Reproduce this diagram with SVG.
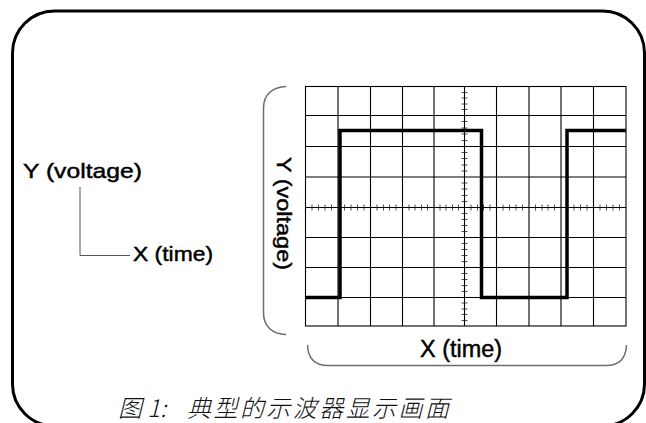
<svg xmlns="http://www.w3.org/2000/svg" width="646" height="423" viewBox="0 0 646 423">
<style>
.lbl{font-family:"Liberation Sans",Arial,sans-serif;fill:#000;stroke:#000;stroke-width:0.45;}
.grid{fill:none;stroke:#000;stroke-width:1.1;}
.tick{fill:none;stroke:#222;stroke-width:0.8;}
.brk{fill:none;stroke:#6e6e6e;stroke-width:1.5;}
.wave{fill:none;stroke:#000;stroke-width:3.5;stroke-linejoin:miter;stroke-linecap:butt;}
.cap{font-family:"Noto Sans CJK SC","Liberation Sans",sans-serif;font-style:italic;font-weight:300;fill:#111;}
</style>
<rect width="646" height="423" fill="#fff"/>
<g id="frame">
<rect x="12.5" y="11" width="632" height="415" rx="42" ry="42" fill="none" stroke="#000" stroke-width="3"/>
</g>
<g id="legend">
<text class="lbl" x="23" y="178" font-size="21" textLength="119" lengthAdjust="spacingAndGlyphs">Y (voltage)</text>
<text class="lbl" x="133" y="261" font-size="21" textLength="80" lengthAdjust="spacingAndGlyphs">X (time)</text>
</g>
<g id="connectors">
<path d="M80 187 V255.5 H130" fill="none" stroke="#555" stroke-width="1"/>
</g>
<g id="screen">
<rect class="grid" x="305.5" y="86.5" width="320.5" height="239.5"/>
<path class="grid" d="M338 86.5V326M370.5 86.5V326M402.5 86.5V326M434 86.5V326M464.5 86.5V326M496.5 86.5V326M529 86.5V326M561 86.5V326M593.5 86.5V326M305.5 115.5H626M305.5 146.5H626M305.5 177H626M305.5 207.5H626M305.5 237.5H626M305.5 267.5H626M305.5 297.5H626"/>
<path class="tick" d="M312 204.5v6M318.5 204.5v6M325 204.5v6M331.5 204.5v6M344.5 204.5v6M351 204.5v6M357.5 204.5v6M364 204.5v6M377 204.5v6M383.5 204.5v6M389.5 204.5v6M396 204.5v6M409 204.5v6M415 204.5v6M421.5 204.5v6M427.5 204.5v6M440 204.5v6M446 204.5v6M452.5 204.5v6M458.5 204.5v6M471 204.5v6M477.5 204.5v6M483.5 204.5v6M490 204.5v6M503 204.5v6M509.5 204.5v6M516 204.5v6M522.5 204.5v6M535.5 204.5v6M542 204.5v6M548 204.5v6M554.5 204.5v6M567.5 204.5v6M574 204.5v6M580.5 204.5v6M587 204.5v6M600 204.5v6M606.5 204.5v6M613 204.5v6M619.5 204.5v6"/>
<path class="tick" d="M461.5 92.5h6M461.5 98h6M461.5 104h6M461.5 109.5h6M461.5 121.5h6M461.5 128h6M461.5 134h6M461.5 140.5h6M461.5 152.5h6M461.5 158.5h6M461.5 165h6M461.5 171h6M461.5 183h6M461.5 189h6M461.5 195.5h6M461.5 201.5h6M461.5 213.5h6M461.5 219.5h6M461.5 225.5h6M461.5 231.5h6M461.5 243.5h6M461.5 249.5h6M461.5 255.5h6M461.5 261.5h6M461.5 273.5h6M461.5 279.5h6M461.5 285.5h6M461.5 291.5h6M461.5 303h6M461.5 309h6M461.5 314.5h6M461.5 320.5h6"/>
<path class="wave" d="M305.5 297.5H340V130.5H481.5V297.5H567V130.5H626"/>
</g>
<g id="y-axis-label">
<path class="brk" d="M286 86.5C272 87 263.5 95 263.5 108V313C263.5 326 272 334 286 334.5"/>
<text class="lbl" transform="translate(276.5,157) rotate(90)" x="0" y="0" font-size="21" textLength="113" lengthAdjust="spacingAndGlyphs">Y (voltage)</text>
</g>
<g id="x-axis-label">
<path class="brk" d="M307.5 345C308 358 315 365.5 328 365.5H606C619 365.5 626 358 626.5 345"/>
<text class="lbl" x="420" y="357" font-size="23" textLength="82" lengthAdjust="spacingAndGlyphs">X (time)</text>
</g>
<g id="caption">
<text class="cap" x="118" y="417" font-size="24">图 1:</text>
<text class="cap" x="187" y="417" font-size="24" textLength="262" lengthAdjust="spacing">典型的示波器显示画面</text>
</g>
</svg>
